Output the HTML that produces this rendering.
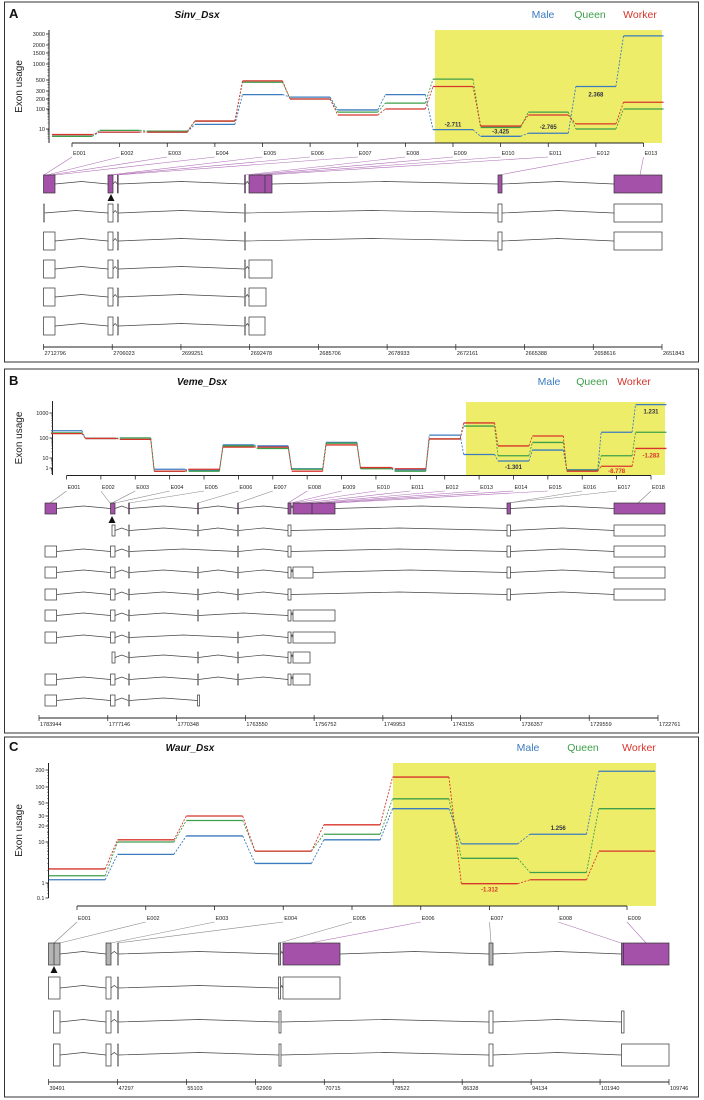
<!DOCTYPE html>
<html><head><meta charset="utf-8"><style>
body{margin:0;background:#fff}
svg{display:block;font-family:"Liberation Sans",Arial,sans-serif}
</style></head><body>
<svg id="fig" width="704" height="1100" viewBox="0 0 704 1100" xmlns="http://www.w3.org/2000/svg"></svg>
<script>
// ---------- Panel A data ----------
const aExons = ["E001","E002","E003","E004","E005","E006","E007","E008","E009","E010","E011","E012","E013"];
const aMale   = [3,6,6,17,250,220,90,250,9,3,5,370,2800];
const aQueen  = [3,8,7,25,450,200,70,150,520,12,70,10,100];
const aWorker = [4,6,6,25,480,200,50,100,370,14,50,18,160];
const aTickLabels = ["3000","2000","1500","1000","500","300","200","100","10"];
const aCoordLabels = ["2712796","2706023","2699251","2692478","2685706","2678933","2672161","2665388","2658616","2651843"];
// ---------- Panel B data ----------
const bExons = ["E001","E002","E003","E004","E005","E006","E007","E008","E009","E010","E011","E012","E013","E014","E015","E016","E017","E018"];
const bMale   = [195,95,100,0.7,0.5,45,40,0.8,60,1,0.6,130,15,5,25,0.6,170,2500];
const bQueen  = [160,95,100,0.4,0.4,40,30,0.7,55,0.8,0.4,90,300,13,60,0.5,13,170];
const bWorker = [150,95,85,0.4,0.7,35,35,0.4,45,1.1,0.8,90,400,40,120,0.4,1.5,30];
const bTickLabels = ["1000","100","10","1"];
const bCoordLabels = ["1783944","1777146","1770348","1763550","1756752","1749953","1743155","1736357","1729559","1722761"];
// ---------- Panel C data ----------
const cExons = ["E001","E002","E003","E004","E005","E006","E007","E008","E009"];
const cMale   = [1.2,5,13,3,11,40,9,14,190];
const cQueen  = [1.5,10,25,6,14,60,4,1.8,40];
const cWorker = [2.2,11,30,6,21,150,0.9,1.2,6];
const cTickLabels = ["200","100","50","30","20","10","1","0.1"];
const cCoordLabels = ["39491","47297","55103","62909","70715","78522","86328","94134","101940","109746"];

const NS="http://www.w3.org/2000/svg";
const svg=document.getElementById('fig');
function mk(tag,attrs,parent){const e=document.createElementNS(NS,tag);for(const k in attrs)e.setAttribute(k,attrs[k]);(parent||svg).appendChild(e);return e;}
const COL={male:"#3b7bbf",queen:"#3e9f4a",worker:"#d8342c"};
const PURPLE="#a452a9";

function panel(cfg){
  const g=mk('g',{});
  
  
  const b=mk('rect',{x:4.5,y:cfg.box[0],width:694,height:cfg.box[1]-cfg.box[0],fill:'none',stroke:'#333','stroke-width':1},g);
  
  let t=mk('text',{x:9,y:cfg.labY,'font-size':13,'font-weight':'bold',fill:'#111'},g);t.textContent=cfg.letter;
  
  t=mk('text',{x:cfg.titleX,y:cfg.labY,'font-size':10,'font-weight':'bold','font-style':'italic','text-anchor':'middle',fill:'#111'},g);t.textContent=cfg.title;
  
  [["Male",COL.male],["Queen",COL.queen],["Worker",COL.worker]].forEach((l,i)=>{
    const e=mk('text',{x:cfg.legX[i],y:cfg.labY,'font-size':10.5,fill:l[1],'text-anchor':'middle'},g);e.textContent=l[0];
    
  });
  // highlight
  const hl=mk('rect',{x:cfg.hl[0],y:cfg.hl[1],width:cfg.hl[2]-cfg.hl[0],height:cfg.hl[3]-cfg.hl[1],fill:'#eded6a'},g);
  
  // y scale (log interpolation through calibrated axis knots)
  const kv=cfg.knotV, kp=cfg.knotP;
  function yS(v){v=Math.max(v,kv[kv.length-1]*0.999);
    const lv=Math.log10(v);
    for(let i=0;i<kv.length-1;i++){const a=Math.log10(kv[i]),c=Math.log10(kv[i+1]);
      if(lv<=a&&lv>=c||i==kv.length-2){return kp[i]+(lv-a)/(c-a)*(kp[i+1]-kp[i]);}}
    return kp[0];}
  const n=cfg.exons.length;
  const xS=i=>cfg.ax0+i*(cfg.ax1-cfg.ax0)/(n-1);
  const hw=(cfg.ax1-cfg.ax0)/(n-1)*cfg.hwf;
  // y axis
  let l=mk('line',{x1:cfg.yAxX,x2:cfg.yAxX,y1:cfg.yAx[0],y2:cfg.yAx[1],stroke:'#222','stroke-width':1},g);
  
  cfg.ticks.forEach(s=>{const v=parseFloat(s),y=yS(v);
    mk('line',{x1:cfg.yAxX-3,x2:cfg.yAxX,y1:y,y2:y,stroke:'#222','stroke-width':0.8},g);
    const e=mk('text',{x:cfg.yAxX-4,y:y+2,'font-size':5.5,'text-anchor':'end',fill:'#222'},g);e.textContent=s;
    
    for(let m=2;m<10;m++){const mv=v*m/10;const my=yS(mv);if(my<cfg.yAx[1]&&my>cfg.yAx[0])mk('line',{x1:cfg.yAxX-1.5,x2:cfg.yAxX,y1:my,y2:my,stroke:'#222','stroke-width':0.4},g);}
  });
  t=mk('text',{transform:`translate(${cfg.yTitleX},${(cfg.yAx[0]+cfg.yAx[1])/2}) rotate(-90)`,'font-size':10,'text-anchor':'middle',fill:'#222'},g);t.textContent="Exon usage";
  
  // x axis
  l=mk('line',{x1:xS(0),x2:xS(n-1),y1:cfg.xAxY,y2:cfg.xAxY,stroke:'#222','stroke-width':1},g);
  
  cfg.exons.forEach((ex,i)=>{const x=xS(i);
    mk('line',{x1:x,x2:x,y1:cfg.xAxY,y2:cfg.xAxY+4,stroke:'#222','stroke-width':0.8},g);
    const e=mk('text',{x:x+1,y:cfg.eLabY,'font-size':5.5,fill:'#222'},g);e.textContent=ex;
    
    const c=cfg.conn[i];
    const cl=mk('line',{x1:x,y1:cfg.eLabY+2,x2:c[0],y2:cfg.rowTop[0],stroke:c[1]?'#b070b8':'#888','stroke-width':0.6},g);
    
  });
  // series
  [["male",cfg.male],["queen",cfg.queen],["worker",cfg.worker]].forEach(([nm,vals])=>{
    const sg=mk('g',{},g);
    vals.forEach((v,i)=>{const x=xS(i),y=yS(v);
      const s=mk('line',{x1:x-hw,x2:x+hw,y1:y,y2:y,stroke:COL[nm],'stroke-width':1.3},sg);
      
      if(i>0){const px=xS(i-1)+hw,py=yS(vals[i-1]);
        const d=mk('line',{x1:px,y1:py,x2:x-hw,y2:y,stroke:COL[nm],'stroke-width':0.9,'stroke-dasharray':'2,1.5'},sg);
        }
    });
  });
  cfg.vlabels.forEach(lb=>{const series={male:cfg.male,queen:cfg.queen,worker:cfg.worker}[lb[2]];
    const e=mk('text',{x:xS(lb[0]),y:yS(series[lb[0]])+lb[3],'font-size':6,'font-weight':'bold','text-anchor':'middle',fill:lb[4]},g);e.textContent=lb[1];
    });
  // transcripts
  cfg.rows.forEach((row,ri)=>{const top=cfg.rowTop[ri],h=cfg.rowH,mid=top+h/2;
    const tg=mk('g',{},g);
    for(let k=0;k<row.length-1;k++){const a=row[k][1],c=row[k+1][0];const m=(a+c)/2;
      mk('polyline',{points:`${a},${mid} ${m},${mid-2.5} ${c},${mid}`,fill:'none',stroke:'#444','stroke-width':0.7},tg);}
    row.forEach(ex=>{const w=Math.max(ex[1]-ex[0],1);const fill=ex[2]||'#fff';
      const r=mk('rect',{x:ex[0],y:top,width:w,height:h,fill:fill,stroke:'#333','stroke-width':w<2?0.5:0.7},tg);
      
      if(ex[3])mk('line',{x1:ex[3],x2:ex[3],y1:top,y2:top+h,stroke:'#333','stroke-width':0.7},tg);});
  });
  mk('polygon',{points:`${cfg.arrow[0]-3.5},${cfg.arrow[1]+7} ${cfg.arrow[0]+3.5},${cfg.arrow[1]+7} ${cfg.arrow[0]},${cfg.arrow[1]}`,fill:'#111'},g);
  // coordinate axis
  const c0=cfg.coord[0],c1=cfg.coord[1],cy=cfg.coord[2];
  l=mk('line',{x1:c0,x2:c1,y1:cy,y2:cy,stroke:'#222','stroke-width':1},g);
  
  cfg.coordLabels.forEach((s,i)=>{const x=c0+i*(c1-c0)/(cfg.coordLabels.length-1);
    mk('line',{x1:x,x2:x,y1:cy-3,y2:cy+3,stroke:'#222','stroke-width':0.7},g);
    const e=mk('text',{x:x+1,y:cy+8,'font-size':5.5,fill:'#222'},g);e.textContent=s;
    });
}

const P=PURPLE,G='#b4b4b4';
// Panel A
const pa=[[43.5,55,P],[108,113,P],[117.3,118.3,P],[244.5,245.5,P],[249,272,P,265],[498,502,P],[614,662,P]];
panel({name:'sinv-dsx',letter:'A',title:'Sinv_Dsx',box:[2,362],labY:18,titleX:197,legX:543,
  legX:[543,590,640],hl:[435,30,662,143],knotV:[3000,2000,1500,1000,500,300,200,100,10,1],knotP:[34,45,53,64,80,91,99,109,129,143],
  yAxX:49,yAx:[30,143],yTitleX:22,ax0:72,ax1:643.5,hwf:0.42,xAxY:143,eLabY:155,exons:aExons,male:aMale,queen:aQueen,worker:aWorker,
  ticks:aTickLabels,vlabels:[[8,'-2.711','male',-3,'#334'],[9,'-3.425','male',-3,'#334'],[10,'-2.765','male',-4,'#334'],[11,'2.368','male',10,'#334']],
  conn:[[44,1],[47,1],[50,1],[55,1],[109,1],[113,1],[117,1],[245,1],[251,1],[258,1],[266,1],[499,1],[640,1]],
  rowTop:[175,204,232,260,288,317],rowH:18,
  rows:[pa,
   [[43.5,44],[108,113],[117.3,118.3],[244.5,245.5],[498,502],[614,662]],
   [[43.5,55],[108,113],[117.3,118.3],[244.5,245.5],[498,502],[614,662]],
   [[43.5,55],[108,113],[117.3,118.3],[244.5,245.5],[249,272]],
   [[43.5,55],[108,113],[117.3,118.3],[244.5,245.5],[249,266]],
   [[43.5,55],[108,113],[117.3,118.3],[244.5,245.5],[249,265]]],
  arrow:[111,194],coord:[43.5,662,347],coordLabels:aCoordLabels});
// Panel B
const A1=[45,56.6],B1=[110.5,115],C1=[128.5,129.5],D1=[197.5,198.5],E1=[237.5,238.5],F1=[288,291],G1=[293,335],H1=[507,510.5],K1=[614,665];
panel({name:'veme-dsx',letter:'B',title:'Veme_Dsx',box:[369,733],labY:385,titleX:202,legX:[549,592,634],
  hl:[466,402,665,475],knotV:[3000,1000,100,10,1,0.1],knotP:[403,413,438,458,468,476],
  yAxX:52.5,yAx:[401,475],yTitleX:22,ax0:66.5,ax1:651,hwf:0.45,xAxY:475.5,eLabY:489,exons:bExons,male:bMale,queen:bQueen,worker:bWorker,
  ticks:bTickLabels,vlabels:[[17,'1.231','male',9,'#334'],[13,'-1.301','male',8,'#334'],[17,'-1.283','worker',9,'#d8342c'],[16,'-8.778','worker',7,'#d8342c']],
  conn:[[50,0],[110,0],[112,0],[115,0],[129,0],[198,0],[238,0],[288,1],[291,1],[293,1],[303,1],[312,1],[319,1],[326,1],[335,1],[508,0],[508,0],[638,0]],
  rowTop:[503,525,546,567,589,610,632,652,674,695],rowH:11,
  rows:[[[...A1,P],[...B1,P],[...C1,P],[...D1,P],[...E1,P],[...F1,P],[...G1,P,312],[...H1,P],[...K1,P]],
   [[112,115],C1,D1,E1,F1,H1,K1],
   [A1,B1,C1,E1,F1,H1,K1],
   [A1,B1,C1,D1,E1,F1,[293,313],H1,K1],
   [A1,B1,C1,D1,E1,F1,H1,K1],
   [A1,B1,C1,D1,F1,G1],
   [A1,B1,C1,E1,F1,G1],
   [[112,115],C1,D1,E1,F1,[293,310]],
   [A1,B1,C1,D1,E1,F1,[293,310]],
   [A1,B1,C1,[197.5,199.5]]],
  arrow:[112,516],coord:[39,658,718],coordLabels:bCoordLabels});
// Panel C
panel({name:'waur-dsx',letter:'C',title:'Waur_Dsx',box:[737,1097],labY:751,titleX:190,legX:[528,583,639],
  hl:[393,763,656,906],knotV:[200,100,50,30,20,10,1,0.1],knotP:[770,787,803,816,826,842,883,898],
  yAxX:48.5,yAx:[763,898],yTitleX:22,ax0:77,ax1:627,hwf:0.41,xAxY:906,eLabY:920,exons:cExons,male:cMale,queen:cQueen,worker:cWorker,
  ticks:cTickLabels,vlabels:[[6,'-1.312','worker',8,'#d8342c'],[7,'1.256','male',-4,'#334']],
  conn:[[54,0],[60,0],[111,0],[118,0],[279,0],[310,1],[491,0],[621,1],[646,1]],
  rowTop:[943,977,1011,1044],rowH:22,
  rows:[[[48.5,60,G,54],[106,111,G],[117.5,118.5],[278.5,280.5,G],[283,340,P],[489,493,G],[621.5,669,P,623.5]],
   [[48.5,60],[106,111],[117.5,118.5],[278.5,280.5],[283,340]],
   [[53.5,60],[106,111],[117.5,118.5],[279,281],[489,493],[621.5,624]],
   [[53.5,60],[106,111],[117.5,118.5],[279,281],[489,493],[621.5,669]]],
  arrow:[54,966],coord:[48.5,669,1082],coordLabels:cCoordLabels});
</script>
</body></html>
